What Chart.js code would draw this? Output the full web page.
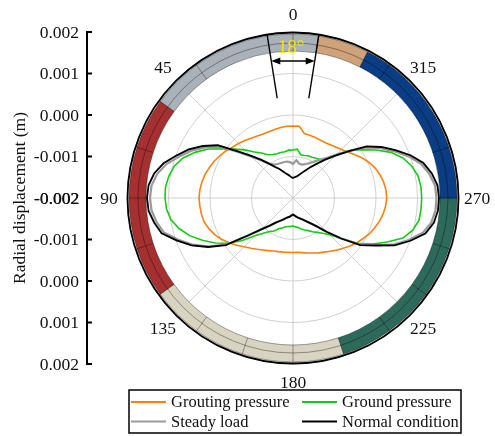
<!DOCTYPE html>
<html>
<head>
<meta charset="utf-8">
<script src="https://cdn.jsdelivr.net/npm/chart.js@4.4.1/dist/chart.umd.min.js"></script>
<style>
  html, body { margin: 0; padding: 0; background: #fff; }
  #wrap { width: 495px; height: 436px; }
</style>
</head>
<body>
<div id="wrap"><canvas id="polarChart" width="495" height="436"></canvas></div>
<script>
// angle of each sample, degrees counter-clockwise from the top
const angles = [0, 5, 10, 15, 20, 25, 30, 35, 40, 45, 50, 55, 60, 65, 70, 75, 80, 85,
  90, 95, 100, 105, 110, 115, 120, 125, 130, 135, 140, 145, 150, 155, 160, 165, 170, 175,
  180, 185, 190, 195, 200, 205, 210, 215, 220, 225, 230, 235, 240, 245, 250, 255, 260, 265,
  270, 275, 280, 285, 290, 295, 300, 305, 310, 315, 320, 325, 330, 335, 340, 345, 350, 355];

// radial displacement (m)
const groutingPressure = [-0.000265, -0.000265, -0.000277, -0.000289, -0.000301, -0.000301, -0.000277, -0.000241, -0.000193, -0.000145, -0.000096, -0.000024, 0.000036, 0.000096, 0.000145, 0.000193, 0.000229, 0.000253,
  0.000265, 0.000253, 0.000241, 0.000217, 0.000157, 0.000084, -0.000012, -0.000120, -0.000229, -0.000337, -0.000422, -0.000494, -0.000554, -0.000602, -0.000639, -0.000663, -0.000675, -0.000687,
  -0.000687, -0.000687, -0.000663, -0.000627, -0.000590, -0.000542, -0.000494, -0.000434, -0.000361, -0.000289, -0.000205, -0.000120, -0.000048, 0.000036, 0.000096, 0.000157, 0.000205, 0.000241,
  0.000258, 0.000248, 0.000217, 0.000169, 0.000108, 0.000024, -0.000072, -0.000181, -0.000277, -0.000349, -0.000398, -0.000434, -0.000458, -0.000458, -0.000446, -0.000434, -0.000422, -0.000265];

const groundPressure = [-0.000843, -0.000843, -0.000867, -0.000867, -0.000867, -0.000843, -0.000795, -0.000675, -0.000554, -0.000361, -0.000169, 0.000072, 0.000361, 0.000602, 0.000819, 0.000964, 0.001036, 0.001084,
  0.001084, 0.001060, 0.000988, 0.000843, 0.000651, 0.000410, 0.000169, -0.000096, -0.000410, -0.000723, -0.000892, -0.001012, -0.001084, -0.001181, -0.001229, -0.001277, -0.001301, -0.001313,
  -0.001325, -0.001301, -0.001277, -0.001229, -0.001181, -0.001133, -0.001060, -0.000988, -0.000892, -0.000747, -0.000482, -0.000096, 0.000217, 0.000506, 0.000819, 0.000988, 0.001084, 0.001096,
  0.001101, 0.001096, 0.001060, 0.000964, 0.000819, 0.000602, 0.000313, 0.000024, -0.000217, -0.000506, -0.000747, -0.000867, -0.000892, -0.000916, -0.000916, -0.000940, -0.000940, -0.000819];

const steadyLoad = [-0.001181, -0.001133, -0.001108, -0.001108, -0.001108, -0.001096, -0.001072, -0.000988, -0.000819, -0.000590, -0.000277, 0.000145, 0.000434, 0.000699, 0.000916, 0.001157, 0.001325, 0.001422,
  0.001446, 0.001422, 0.001337, 0.001217, 0.000940, 0.000663, 0.000337, -0.000048, -0.000602, -0.000940, -0.001133, -0.001277, -0.001361, -0.001422, -0.001482, -0.001518, -0.001542, -0.001578,
  -0.001602, -0.001578, -0.001542, -0.001506, -0.001470, -0.001422, -0.001349, -0.001253, -0.001108, -0.000843, -0.000482, -0.000048, 0.000265, 0.000663, 0.000964, 0.001241, 0.001386, 0.001446,
  0.001458, 0.001434, 0.001337, 0.001193, 0.000952, 0.000675, 0.000410, 0.000120, -0.000241, -0.000530, -0.000747, -0.000880, -0.000988, -0.001072, -0.001133, -0.001169, -0.001157, -0.001084];

const normalCondition = [-0.001518, -0.001494, -0.001446, -0.001398, -0.001325, -0.001229, -0.001133, -0.000988, -0.000795, -0.000554, -0.000241, 0.000217, 0.000506, 0.000771, 0.000988, 0.001229, 0.001398, 0.001494,
  0.001518, 0.001494, 0.001398, 0.001277, 0.000988, 0.000699, 0.000361, -0.000024, -0.000602, -0.000940, -0.001133, -0.001277, -0.001361, -0.001422, -0.001482, -0.001518, -0.001542, -0.001578,
  -0.001602, -0.001578, -0.001542, -0.001506, -0.001470, -0.001422, -0.001349, -0.001253, -0.001108, -0.000843, -0.000482, -0.000024, 0.000289, 0.000699, 0.001012, 0.001301, 0.001446, 0.001506,
  0.001518, 0.001494, 0.001398, 0.001253, 0.001012, 0.000723, 0.000458, 0.000169, -0.000241, -0.000554, -0.000795, -0.000988, -0.001133, -0.001253, -0.001349, -0.001422, -0.001470, -0.001494];

const axisTicks = [-0.002, -0.001, 0, 0.001, 0.002];
const angleTicks = [0, 45, 90, 135, 180, 225, 270, 315];

// coloured zones round the rim (degrees, counter-clockwise from the top)
const zoneFrom = [-9, 54, 126, 198, 270, 333];
const zoneTo = [54, 126, 198, 270, 333, 351];
const zoneDividers = [0, 36, 72, 90, 108, 144, 162, 180, 216, 234, 252, 288, 324];
const spanDeg = 18;

const zoneColors = ['#a9b2b9', '#a5302f', '#d8d4c1', '#2e6a5c', '#0a3d84', '#cfa27a'];
const serif = '"Liberation Serif", "Times New Roman", serif';

// radar goes clockwise from the top, the angles here go the other way
const n = angles.length;
const order = angles.map((a, i) => (n - i) % n);
const pick = arr => order.map(k => arr[k]);

function polar(scale, deg, dist) {
  const a = (-90 - deg) * Math.PI / 180;
  return { x: scale.xCenter + dist * Math.cos(a), y: scale.yCenter + dist * Math.sin(a) };
}
const rad = deg => (-90 - deg) * Math.PI / 180;

const decorations = {
  id: 'decorations',
  beforeDatasetsDraw(chart) {
    const ctx = chart.ctx;
    const s = chart.scales.r;
    const R = s.drawingArea;
    const rIn = R - 19, rOut = R - 2, rMid = R - 11;
    ctx.save();
    // rim zones
    for (let i = 0; i < zoneFrom.length; i++) {
      ctx.beginPath();
      ctx.arc(s.xCenter, s.yCenter, rOut, rad(zoneTo[i]), rad(zoneFrom[i]));
      ctx.arc(s.xCenter, s.yCenter, rIn, rad(zoneFrom[i]), rad(zoneTo[i]), true);
      ctx.closePath();
      ctx.fillStyle = zoneColors[i];
      ctx.fill();
      ctx.strokeStyle = 'rgba(0,0,0,0.45)';
      ctx.lineWidth = 0.8;
      ctx.stroke();
    }
    ctx.strokeStyle = 'rgba(0,0,0,0.45)';
    ctx.lineWidth = 0.8;
    ctx.beginPath();
    ctx.arc(s.xCenter, s.yCenter, rMid, 0, Math.PI * 2);
    ctx.stroke();
    zoneDividers.forEach(d => {
      const p1 = polar(s, d, rIn), p2 = polar(s, d, rOut);
      ctx.beginPath();
      ctx.moveTo(p1.x, p1.y);
      ctx.lineTo(p2.x, p2.y);
      ctx.stroke();
    });
    // outer rim
    ctx.strokeStyle = '#000';
    ctx.lineWidth = 1.8;
    ctx.beginPath();
    ctx.arc(s.xCenter, s.yCenter, R - 0.5, 0, Math.PI * 2);
    ctx.stroke();
    ctx.restore();
  },
  afterDraw(chart) {
    const ctx = chart.ctx;
    const s = chart.scales.r;
    const R = s.drawingArea;
    ctx.save();

    // angle labels
    ctx.fillStyle = '#111';
    ctx.font = '17.5px ' + serif;
    ctx.textAlign = 'center';
    ctx.textBaseline = 'middle';
    angleTicks.forEach(a => {
      const p = polar(s, a, R + 18);
      ctx.fillText(String(a), p.x, p.y + 1);
    });

    // 18 degree span marker
    const half = spanDeg / 2;
    ctx.strokeStyle = '#000';
    ctx.lineWidth = 1.4;
    [half, -half].forEach(a => {
      const p1 = polar(s, a, R - 65), p2 = polar(s, a, R - 1);
      ctx.beginPath();
      ctx.moveTo(p1.x, p1.y);
      ctx.lineTo(p2.x, p2.y);
      ctx.stroke();
    });
    const ay = s.yCenter - (R - 29);
    const tanH = Math.tan(half * Math.PI / 180) * (R - 29);
    const ax1 = s.xCenter - tanH, ax2 = s.xCenter + tanH;
    ctx.beginPath();
    ctx.moveTo(ax1 + 3, ay);
    ctx.lineTo(ax2 - 3, ay);
    ctx.stroke();
    ctx.fillStyle = '#000';
    ctx.beginPath();
    ctx.moveTo(ax1, ay); ctx.lineTo(ax1 + 9, ay - 3.5); ctx.lineTo(ax1 + 9, ay + 3.5); ctx.closePath();
    ctx.moveTo(ax2, ay); ctx.lineTo(ax2 - 9, ay - 3.5); ctx.lineTo(ax2 - 9, ay + 3.5); ctx.closePath();
    ctx.fill();
    ctx.fillStyle = '#f5e400';
    ctx.font = '19px ' + serif;
    ctx.fillText(spanDeg + '°', s.xCenter - 2, ay - 13);

    // radial displacement axis on the left
    const axX = s.xCenter - R - 40;
    ctx.strokeStyle = '#000';
    ctx.lineWidth = 2;
    ctx.beginPath();
    ctx.moveTo(axX, s.yCenter - R);
    ctx.lineTo(axX, s.yCenter + R);
    ctx.stroke();
    ctx.font = '17.5px ' + serif;
    ctx.fillStyle = '#111';
    ctx.textAlign = 'right';
    axisTicks.forEach(v => {
      const d = s.getDistanceFromCenterForValue(v);
      const ys = d === 0 ? [s.yCenter] : [s.yCenter - d, s.yCenter + d];
      ys.forEach(y => {
        ctx.beginPath();
        ctx.moveTo(axX - 1, y);
        ctx.lineTo(axX + 5, y);
        ctx.stroke();
        const txt = v.toFixed(3);
        ctx.fillText(txt, axX - 8, y + 1);
        if (d === 0) ctx.fillText(txt, axX - 7.6, y + 1);
      });
    });
    ctx.save();
    ctx.translate(20, s.yCenter);
    ctx.rotate(-Math.PI / 2);
    ctx.textAlign = 'center';
    ctx.fillText('Radial displacement (m)', 0, 0);
    ctx.restore();

    // legend box
    const lx = s.xCenter - 164, ly = s.yCenter + R + 26, lw = 332, lh = 43;
    ctx.strokeStyle = '#000';
    ctx.lineWidth = 1.5;
    ctx.strokeRect(lx, ly, lw, lh);
    ctx.font = '16.5px ' + serif;
    ctx.textAlign = 'left';
    const ds = chart.data.datasets;
    [0, 1, 2, 3].forEach(i => {
      const col = i % 2, row = Math.floor(i / 2);
      const x0 = lx + 2 + col * 171;
      const y0 = ly + 12 + row * 19.5;
      ctx.strokeStyle = ds[i].borderColor;
      ctx.lineWidth = 2;
      ctx.beginPath();
      ctx.moveTo(x0, y0);
      ctx.lineTo(x0 + 35, y0);
      ctx.stroke();
      ctx.fillStyle = '#111';
      ctx.fillText(ds[i].label, x0 + 40, y0 + 1);
    });
    ctx.restore();
  }
};

new Chart(document.getElementById('polarChart'), {
  type: 'radar',
  data: {
    labels: pick(angles),
    datasets: [
      { label: 'Grouting pressure', data: pick(groutingPressure), borderColor: '#f7820f', borderWidth: 1.6, order: 3 },
      { label: 'Ground pressure', data: pick(groundPressure), borderColor: '#18c818', borderWidth: 1.6, order: 2 },
      { label: 'Steady load', data: pick(steadyLoad), borderColor: '#9a9a9a', borderWidth: 2.2, order: 1 },
      { label: 'Normal condition', data: pick(normalCondition), borderColor: '#000000', borderWidth: 1.8, order: 0 }
    ]
  },
  options: {
    responsive: false,
    animation: false,
    layout: { padding: { left: 127, right: 36, top: 32, bottom: 72 } },
    elements: {
      point: { radius: 0, hoverRadius: 0 },
      line: { tension: 0, fill: false }
    },
    plugins: { legend: { display: false }, tooltip: { enabled: false } },
    scales: {
      r: {
        min: -0.002,
        max: 0.002,
        beginAtZero: false,
        ticks: { display: false, stepSize: 0.001 },
        pointLabels: { display: false },
        grid: { circular: true, color: '#c4c4c4', lineWidth: 0.8 },
        angleLines: {
          color: '#c4c4c4',
          lineWidth: c => (c.index % 9 === 0 ? 0.8 : 0)
        }
      }
    }
  },
  plugins: [decorations]
});
</script>
</body>
</html>
